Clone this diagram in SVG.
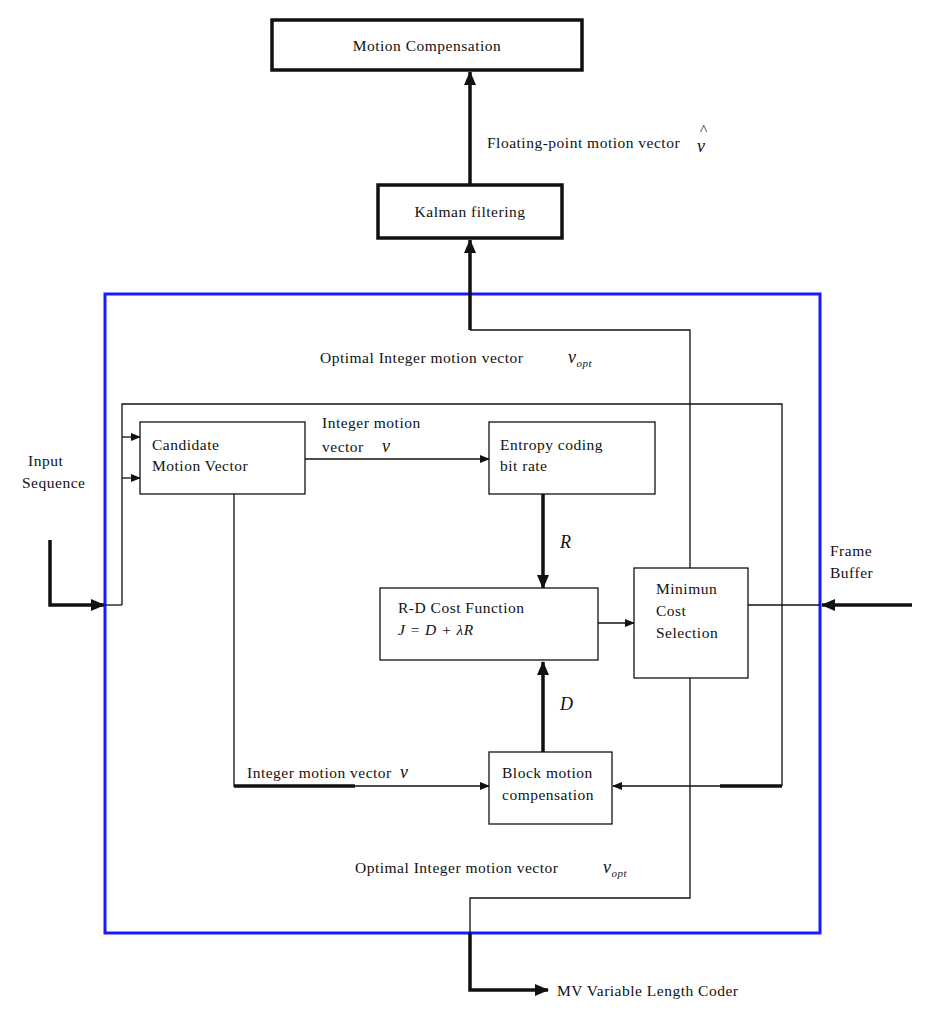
<svg xmlns="http://www.w3.org/2000/svg" width="928" height="1011" viewBox="0 0 928 1011">
<style>
text{font-family:"Liberation Serif","Times New Roman",serif;font-size:15.5px;letter-spacing:0.5px;fill:#111}
.b{fill:#fff;stroke:#111;stroke-width:1.3}
.tb{fill:#fff;stroke:#111;stroke-width:3.5}
.l{fill:none;stroke:#111;stroke-width:1.3}
.t{fill:none;stroke:#111;stroke-width:3.5}
.i{font-style:italic;font-size:18px}
</style>
<defs>
<marker id="a" markerWidth="10" markerHeight="8" refX="9" refY="4" orient="auto" markerUnits="userSpaceOnUse"><path d="M0,0L10,4L0,8z" fill="#111"/></marker>
<marker id="A" markerWidth="14" markerHeight="12" refX="13" refY="6" orient="auto" markerUnits="userSpaceOnUse"><path d="M0,0L14,6L0,12z" fill="#111"/></marker>
</defs>
<rect x="105" y="294" width="715" height="639" fill="none" stroke="#1a1aff" stroke-width="3"/>
<g id="connectors">
<path class="t" d="M470,185V72" marker-end="url(#A)"/>
<path class="t" d="M470,330V240" marker-end="url(#A)"/>
<path class="l" d="M470,330H690V898H470V933"/>
<path class="t" d="M470,933V990H548" marker-end="url(#A)"/>
<path class="l" d="M122,605V404H782V786"/>
<path class="l" d="M122,437H140" marker-end="url(#a)"/>
<path class="l" d="M122,478H140" marker-end="url(#a)"/>
<path class="t" d="M50,540V605H104" marker-end="url(#A)"/>
<path class="l" d="M105,605H122"/>
<path class="t" d="M912,605H822" marker-end="url(#A)"/>
<path class="l" d="M748,605H820"/>
<path class="l" d="M305,459H489" marker-end="url(#a)"/>
<path class="t" d="M543,494V588" marker-end="url(#A)"/>
<path class="l" d="M598,623H634" marker-end="url(#a)"/>
<path class="t" d="M543,752V662" marker-end="url(#A)"/>
<path class="l" d="M234,494V786H489" marker-end="url(#a)"/>
<path class="t" d="M234,786H355"/>
<path class="l" d="M782,786H613" marker-end="url(#a)"/>
<path class="t" d="M782,786H720"/>
</g>
<g id="motion-comp"><rect class="tb" x="272" y="20" width="310" height="50"/><text x="427" y="51" text-anchor="middle">Motion Compensation</text></g>
<g id="kalman"><rect class="tb" x="378" y="185" width="184" height="53"/><text x="470" y="217" text-anchor="middle">Kalman filtering</text></g>
<g id="candidate"><rect class="b" x="140" y="422" width="165" height="72"/><text x="152" y="450">Candidate</text><text x="152" y="471">Motion Vector</text></g>
<g id="entropy"><rect class="b" x="489" y="422" width="166" height="72"/><text x="500" y="450">Entropy coding</text><text x="500" y="471">bit rate</text></g>
<g id="rd"><rect class="b" x="380" y="588" width="218" height="72"/><text x="398" y="613">R-D Cost Function</text><text x="398" y="635" font-style="italic">J = D + λR</text></g>
<g id="minimum"><rect class="b" x="634" y="568" width="114" height="110"/><text x="656" y="594">Minimun</text><text x="656" y="616">Cost</text><text x="656" y="638">Selection</text></g>
<g id="block"><rect class="b" x="489" y="752" width="123" height="72"/><text x="502" y="778">Block motion</text><text x="502" y="800">compensation</text></g>
<g id="labels">
<text x="487" y="148">Floating-point motion vector</text><text class="i" x="697" y="152">ν</text><text x="700" y="135" font-size="13">^</text>
<text x="320" y="363">Optimal Integer motion vector</text><text class="i" x="568" y="363">ν<tspan font-size="11" dy="4">opt</tspan></text>
<text x="322" y="428">Integer motion</text><text x="322" y="452">vector</text><text class="i" x="382" y="452">ν</text>
<text x="247" y="778">Integer motion vector</text><text class="i" x="400" y="778">ν</text>
<text x="355" y="873">Optimal Integer motion vector</text><text class="i" x="603" y="873">ν<tspan font-size="11" dy="4">opt</tspan></text>
<text class="i" x="560" y="548">R</text>
<text class="i" x="560" y="710">D</text>
<text x="28" y="466">Input</text><text x="22" y="488">Sequence</text>
<text x="830" y="556">Frame</text><text x="830" y="578">Buffer</text>
<text x="557" y="996">MV Variable Length Coder</text>
</g>
</svg>
